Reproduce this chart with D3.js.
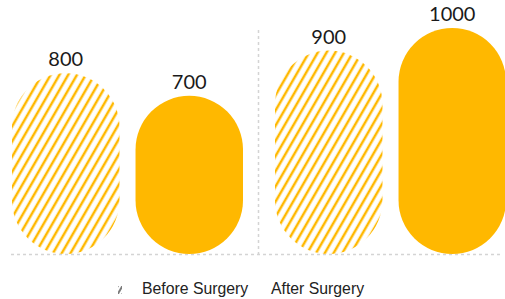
<!DOCTYPE html>
<html>
<head>
<meta charset="utf-8">
<script src="https://cdn.jsdelivr.net/npm/d3@7"></script>
<style>
  body { margin: 0; background: #fff; }
</style>
</head>
<body>
<div id="chart"></div>
<script>
// data
var groups = ["g1", "g2"];
var seriesNames = ["Before Surgery", "After Surgery"];
var beforeValues = [800, 900];
var afterValues = [700, 1000];

var W = 505, H = 299;
var color = "#FFB800";

var svg = d3.select("#chart").append("svg")
  .attr("width", W)
  .attr("height", H);

var defs = svg.append("defs");
var pat = defs.append("pattern")
  .attr("id", "hatch")
  .attr("patternUnits", "userSpaceOnUse")
  .attr("width", 7.6)
  .attr("height", 10)
  .attr("patternTransform", "rotate(30)");
pat.append("line")
  .attr("x1", 2).attr("y1", 0)
  .attr("x2", 2).attr("y2", 10)
  .attr("stroke", color)
  .attr("stroke-width", 2.5);

var pat2 = defs.append("pattern")
  .attr("id", "hatchdark")
  .attr("patternUnits", "userSpaceOnUse")
  .attr("width", 4)
  .attr("height", 10)
  .attr("patternTransform", "rotate(30)");
pat2.append("line")
  .attr("x1", 1).attr("y1", 0)
  .attr("x2", 1).attr("y2", 10)
  .attr("stroke", "#333")
  .attr("stroke-width", 1.3);

defs.append("clipPath").attr("id", "plotclip")
  .append("rect")
  .attr("x", 11).attr("y", 0)
  .attr("width", W - 11).attr("height", 256);

var data = groups.map(function(g, i) {
  return { group: g, values: [
    { key: seriesNames[0], value: beforeValues[i] },
    { key: seriesNames[1], value: afterValues[i] }
  ]};
});

var x0 = d3.scaleBand()
  .domain(groups)
  .range([-5, 521]);

var x1 = d3.scaleBand()
  .domain(seriesNames)
  .range([17, 248])
  .paddingInner(0.13);

var y = d3.scaleLinear()
  .domain([0, 1000])
  .range([254, 28]);

// baseline and divider
svg.append("line")
  .attr("x1", 11).attr("x2", 503)
  .attr("y1", y(0) + 0.5).attr("y2", y(0) + 0.5)
  .attr("stroke", "#d4d4d4")
  .attr("stroke-width", 1.5)
  .attr("stroke-dasharray", "3,3");

svg.append("line")
  .attr("x1", x0("g2") + 0.5).attr("x2", x0("g2") + 0.5)
  .attr("y1", 30).attr("y2", y(0))
  .attr("stroke", "#d4d4d4")
  .attr("stroke-width", 1.5)
  .attr("stroke-dasharray", "3,3");

var plot = svg.append("g").attr("clip-path", "url(#plotclip)");

var grp = plot.selectAll(".grp")
  .data(data)
  .enter().append("g")
  .attr("transform", function(d) { return "translate(" + x0(d.group) + ",0)"; });

grp.selectAll("rect")
  .data(function(d) { return d.values; })
  .enter().append("rect")
  .attr("x", function(d) { return x1(d.key); })
  .attr("y", function(d) { return y(d.value); })
  .attr("width", x1.bandwidth())
  .attr("height", function(d) { return y(0) - y(d.value); })
  .attr("rx", x1.bandwidth() / 2)
  .attr("ry", x1.bandwidth() / 2)
  .attr("fill", function(d) { return d.key == seriesNames[0] ? "url(#hatch)" : color; });

var lbl = svg.selectAll(".lblg")
  .data(data)
  .enter().append("g")
  .attr("transform", function(d) { return "translate(" + x0(d.group) + ",0)"; });

lbl.selectAll("text")
  .data(function(d) { return d.values; })
  .enter().append("text")
  .attr("x", function(d) { return x1(d.key) + x1.bandwidth() / 2; })
  .attr("y", function(d) { return y(d.value) - 7; })
  .attr("text-anchor", "middle")
  .attr("font-family", "Lato, 'Noto Sans', sans-serif")
  .attr("font-size", "20px")
  .attr("fill", "#1a1a1a")
  .text(function(d) { return d.value; });

// legend
svg.append("rect")
  .attr("x", 118).attr("y", 286)
  .attr("width", 4).attr("height", 8)
  .attr("fill", "url(#hatchdark)");

var legendX = [142, 271];
svg.selectAll(".leg")
  .data(seriesNames)
  .enter().append("text")
  .attr("x", function(d, i) { return legendX[i]; })
  .attr("y", 294)
  .attr("font-family", "'Liberation Sans', Arial, sans-serif")
  .attr("font-size", "15.8px")
  .attr("fill", "#222")
  .text(function(d) { return d; });
</script>
</body>
</html>
